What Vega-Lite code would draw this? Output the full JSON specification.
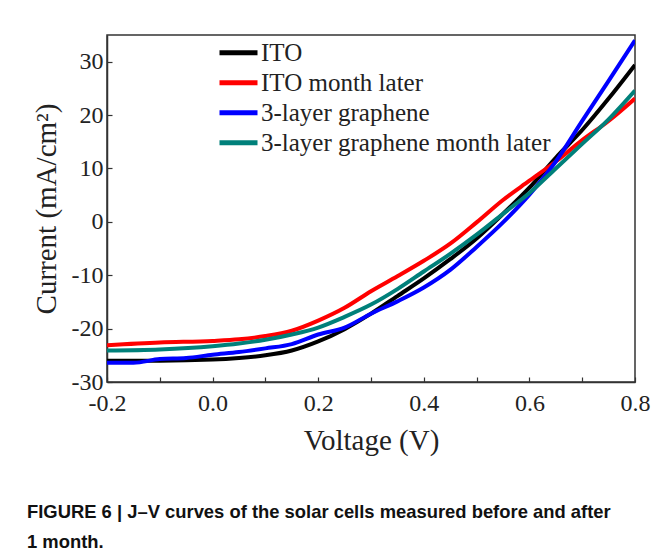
{
  "$schema": "https://vega.github.io/schema/vega-lite/v6.json",
  "width": 528,
  "height": 347,
  "autosize": {"type": "none"},
  "padding": {"left": 107, "top": 35, "right": 27, "bottom": 172},
  "background": "white",
  "title": {
    "text": ["FIGURE 6 | J–V curves of the solar cells measured before and after", "1 month."],
    "orient": "bottom",
    "anchor": "start",
    "frame": "group",
    "dx": -80,
    "offset": 48,
    "font": "Liberation Sans",
    "fontSize": 18.4,
    "fontWeight": "bold",
    "color": "#111111",
    "lineHeight": 30
  },
  "config": {
    "view": {"stroke": "#333333", "strokeWidth": 1.5},
    "axis": {
      "labelFont": "Liberation Serif",
      "titleFont": "Liberation Serif",
      "labelColor": "#222222",
      "titleColor": "#222222",
      "labelFontSize": 24,
      "titleFontSize": 29,
      "titleFontWeight": "normal",
      "domainColor": "#333333",
      "domainWidth": 1.5,
      "tickColor": "#333333",
      "tickWidth": 1.2,
      "tickSize": -5,
      "grid": false
    }
  },
  "datasets": {
    "curves": [
      {"series": "ITO", "v": -0.2, "j": -26.0},
      {"series": "ITO", "v": -0.1, "j": -26.0},
      {"series": "ITO", "v": 0.0, "j": -25.8},
      {"series": "ITO", "v": 0.05, "j": -25.5},
      {"series": "ITO", "v": 0.1, "j": -25.0},
      {"series": "ITO", "v": 0.15, "j": -24.1},
      {"series": "ITO", "v": 0.2, "j": -22.4},
      {"series": "ITO", "v": 0.25, "j": -20.1},
      {"series": "ITO", "v": 0.3, "j": -17.2},
      {"series": "ITO", "v": 0.35, "j": -13.9},
      {"series": "ITO", "v": 0.4, "j": -10.6},
      {"series": "ITO", "v": 0.45, "j": -7.0},
      {"series": "ITO", "v": 0.5, "j": -3.1},
      {"series": "ITO", "v": 0.55, "j": 1.5},
      {"series": "ITO", "v": 0.6, "j": 6.4},
      {"series": "ITO", "v": 0.65, "j": 12.0},
      {"series": "ITO", "v": 0.7, "j": 17.2},
      {"series": "ITO", "v": 0.75, "j": 23.1},
      {"series": "ITO", "v": 0.8, "j": 29.4},
      {"series": "ITO month later", "v": -0.2, "j": -23.1},
      {"series": "ITO month later", "v": -0.1, "j": -22.6},
      {"series": "ITO month later", "v": 0.0, "j": -22.3},
      {"series": "ITO month later", "v": 0.05, "j": -22.0},
      {"series": "ITO month later", "v": 0.1, "j": -21.4},
      {"series": "ITO month later", "v": 0.15, "j": -20.4},
      {"series": "ITO month later", "v": 0.2, "j": -18.5},
      {"series": "ITO month later", "v": 0.25, "j": -16.1},
      {"series": "ITO month later", "v": 0.3, "j": -13.0},
      {"series": "ITO month later", "v": 0.35, "j": -10.2},
      {"series": "ITO month later", "v": 0.4, "j": -7.3},
      {"series": "ITO month later", "v": 0.45, "j": -4.1},
      {"series": "ITO month later", "v": 0.5, "j": -0.1},
      {"series": "ITO month later", "v": 0.55, "j": 4.1},
      {"series": "ITO month later", "v": 0.6, "j": 7.7},
      {"series": "ITO month later", "v": 0.65, "j": 11.3},
      {"series": "ITO month later", "v": 0.7, "j": 15.3},
      {"series": "ITO month later", "v": 0.75, "j": 18.9},
      {"series": "ITO month later", "v": 0.8, "j": 23.1},
      {"series": "3-layer graphene", "v": -0.2, "j": -26.4},
      {"series": "3-layer graphene", "v": -0.15, "j": -26.4},
      {"series": "3-layer graphene", "v": -0.1, "j": -25.7},
      {"series": "3-layer graphene", "v": -0.05, "j": -25.5},
      {"series": "3-layer graphene", "v": 0.0, "j": -24.9},
      {"series": "3-layer graphene", "v": 0.05, "j": -24.4},
      {"series": "3-layer graphene", "v": 0.1, "j": -23.7},
      {"series": "3-layer graphene", "v": 0.15, "j": -22.9},
      {"series": "3-layer graphene", "v": 0.2, "j": -21.1},
      {"series": "3-layer graphene", "v": 0.25, "j": -19.8},
      {"series": "3-layer graphene", "v": 0.3, "j": -17.2},
      {"series": "3-layer graphene", "v": 0.35, "j": -14.9},
      {"series": "3-layer graphene", "v": 0.4, "j": -12.3},
      {"series": "3-layer graphene", "v": 0.45, "j": -9.0},
      {"series": "3-layer graphene", "v": 0.5, "j": -4.7},
      {"series": "3-layer graphene", "v": 0.55, "j": -0.1},
      {"series": "3-layer graphene", "v": 0.6, "j": 5.1},
      {"series": "3-layer graphene", "v": 0.65, "j": 11.3},
      {"series": "3-layer graphene", "v": 0.7, "j": 18.9},
      {"series": "3-layer graphene", "v": 0.75, "j": 26.4},
      {"series": "3-layer graphene", "v": 0.8, "j": 34.0},
      {"series": "3-layer graphene month later", "v": -0.2, "j": -24.1},
      {"series": "3-layer graphene month later", "v": -0.1, "j": -23.9},
      {"series": "3-layer graphene month later", "v": 0.0, "j": -23.3},
      {"series": "3-layer graphene month later", "v": 0.05, "j": -22.8},
      {"series": "3-layer graphene month later", "v": 0.1, "j": -22.1},
      {"series": "3-layer graphene month later", "v": 0.15, "j": -21.1},
      {"series": "3-layer graphene month later", "v": 0.2, "j": -19.8},
      {"series": "3-layer graphene month later", "v": 0.25, "j": -17.8},
      {"series": "3-layer graphene month later", "v": 0.3, "j": -15.5},
      {"series": "3-layer graphene month later", "v": 0.35, "j": -12.6},
      {"series": "3-layer graphene month later", "v": 0.4, "j": -9.3},
      {"series": "3-layer graphene month later", "v": 0.45, "j": -6.0},
      {"series": "3-layer graphene month later", "v": 0.5, "j": -2.4},
      {"series": "3-layer graphene month later", "v": 0.55, "j": 1.5},
      {"series": "3-layer graphene month later", "v": 0.6, "j": 5.4},
      {"series": "3-layer graphene month later", "v": 0.65, "j": 10.0},
      {"series": "3-layer graphene month later", "v": 0.7, "j": 14.6},
      {"series": "3-layer graphene month later", "v": 0.75, "j": 19.2},
      {"series": "3-layer graphene month later", "v": 0.8, "j": 24.6}
    ]
  },
  "layer": [
    {
      "mark": {"type": "rule", "color": "#333333", "strokeWidth": 1.5},
      "encoding": {"y": {"datum": 0, "type": "quantitative", "scale": {"domain": [-30, 35]}}}
    },
    {
      "mark": {"type": "rule", "color": "#333333", "strokeWidth": 1.5},
      "encoding": {"x": {"datum": 0, "type": "quantitative", "scale": {"domain": [-0.2, 0.8]}}}
    },
    {
      "data": {"name": "curves"},
      "mark": {"type": "line", "strokeWidth": 4, "interpolate": "monotone", "clip": true},
      "encoding": {
        "x": {
          "field": "v",
          "type": "quantitative",
          "scale": {"domain": [-0.2, 0.8], "nice": false, "zero": false},
          "axis": {
            "title": "Voltage (V)",
            "values": [-0.2, -0.1, 0, 0.1, 0.2, 0.3, 0.4, 0.5, 0.6, 0.7, 0.8],
            "labelExpr": "abs(round(datum.value*10)) % 2 == 0 ? replace(format(datum.value, '.1f'), '−', '-') : ''",
            "labelPadding": 14,
            "titlePadding": 11,
            "labelFlush": false,
            "labelOverlap": false
          }
        },
        "y": {
          "field": "j",
          "type": "quantitative",
          "scale": {"domain": [-30, 35], "nice": false, "zero": false},
          "axis": {
            "title": "Current (mA/cm²)",
            "values": [-30, -25, -20, -15, -10, -5, 0, 5, 10, 15, 20, 25, 30],
            "labelExpr": "abs(round(datum.value)) % 10 == 0 ? replace(format(datum.value, 'd'), '−', '-') : ''",
            "labelPadding": 9,
            "titlePadding": 10,
            "labelFlush": false,
            "labelOverlap": false
          }
        },
        "color": {
          "field": "series",
          "type": "nominal",
          "sort": null,
          "scale": {
            "domain": ["ITO", "ITO month later", "3-layer graphene", "3-layer graphene month later"],
            "range": ["#000000", "#ff0000", "#0000ff", "#00807a"]
          },
          "legend": {
            "title": null,
            "orient": "none",
            "legendX": 110,
            "legendY": 3,
            "symbolType": "stroke",
            "symbolSize": 1444,
            "symbolStrokeWidth": 5,
            "labelFont": "Liberation Serif",
            "labelFontSize": 25,
            "labelColor": "#222222",
            "labelOffset": 1,
            "labelLimit": 400,
            "clipHeight": 29.5,
            "rowPadding": 0
          }
        }
      }
    }
  ]
}
